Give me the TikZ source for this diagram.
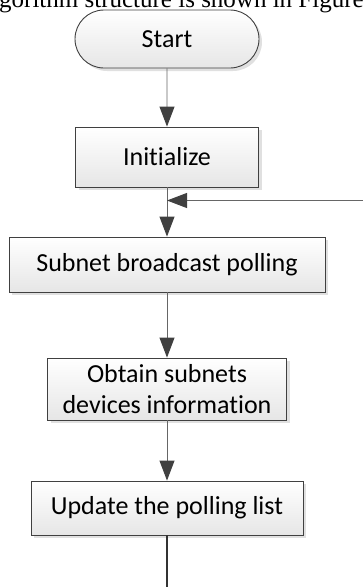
\documentclass[tikz,border=0pt]{standalone}
\usepackage{fontspec}
\setmainfont[Ligatures=NoCommon]{Carlito}
\newfontfamily\headserif{Liberation Serif}
\usetikzlibrary{arrows.meta,shapes.misc,shadows}
\definecolor{boxline}{HTML}{404040}
\definecolor{boxfill}{HTML}{E6E6E6}
\definecolor{flowline}{HTML}{666666}
\definecolor{tipgray}{HTML}{404040}
\begin{document}
\begin{tikzpicture}[x=1pt,y=-1pt]
\tikzstyle{proc}=[rectangle,draw=boxline,line width=0.9pt,top color=white,bottom color=boxfill,drop shadow={shadow xshift=3pt,shadow yshift=-3pt,fill=black!12,opacity=1},inner sep=0pt,align=center,font=\fontsize{26}{31.7}\selectfont]
\tikzstyle{term}=[proc,rounded rectangle]
\tikzstyle{flow}=[draw=flowline,line width=0.9pt,-{Triangle[length=20pt,width=15pt,color=tipgray]}]
\useasboundingbox (0,0) rectangle (363,587);
\clip (0,0) rectangle (363,587);
\node [anchor=base west,inner sep=0pt,font=\headserif\fontsize{25}{30}\selectfont] (head) at (-1,7) {gorithm structure is shown in Figure};
\node [term,minimum width=184pt,minimum height=58pt] (start) at (167,39) {Start};
\node [proc,minimum width=183pt,minimum height=60pt] (init) at (167,157) {Initialize};
\node [proc,minimum width=316pt,minimum height=55pt] (bcast) at (167,264.5) {Subnet broadcast polling};
\node [proc,minimum width=239pt,minimum height=62pt] (obtain) at (167,389) {Obtain subnets\\devices information};
\node [proc,minimum width=272pt,minimum height=54pt] (update) at (167,508) {Update the polling list};
\coordinate (join) at (167,200.5);
\coordinate (back) at (364,200.5);
\coordinate (stop) at (167,588);
\draw [flow] (start) -- (init);
\draw [draw=flowline,line width=0.9pt] (init) -- (join);
\draw [flow] (back) -- (join);
\draw [flow] (join) -- (bcast);
\draw [flow] (bcast) -- (obtain);
\draw [flow] (obtain) -- (update);
\draw [draw=black!80,line width=1.8pt] (update) -- (stop);
\end{tikzpicture}
\end{document}
